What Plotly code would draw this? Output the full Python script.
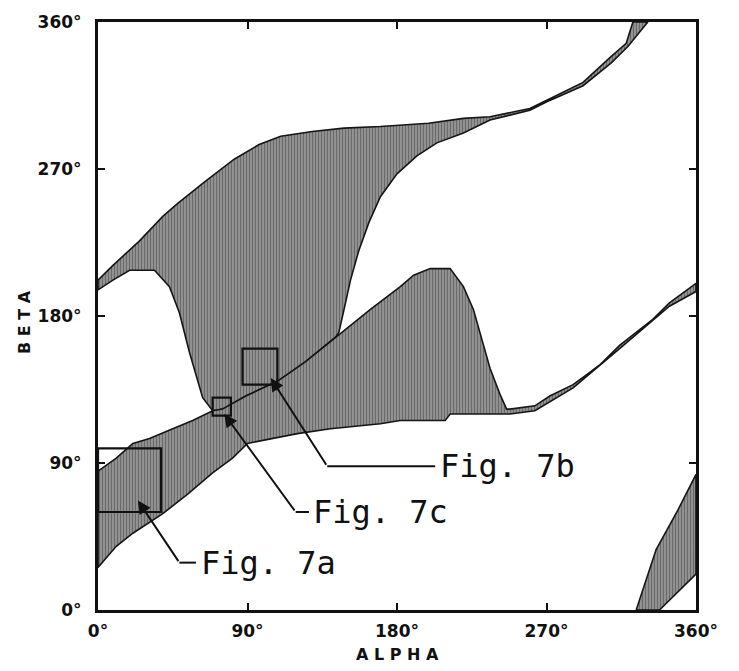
import plotly.graph_objects as go

# ---------------- data (degrees) ----------------
# Region A: upper S-shaped region (top boundary, thin band to top edge)
A_top_alpha = [0, 9, 25, 39, 48, 64, 82, 97, 110, 129, 148, 170, 199, 220, 236, 260, 272, 292, 308, 318, 322]
A_top_beta = [202, 211, 226, 241, 249, 262, 276, 285, 290, 293, 295, 296, 298, 301, 302, 307, 313, 323, 338, 347, 360]
# right boundary of A (from top edge back down to where it meets region B)
A_right_alpha = [331, 319, 309, 292, 272, 260, 236, 220, 204, 192, 180, 170, 163, 157, 152, 149, 145]
A_right_beta = [360, 345, 335, 321, 312, 306, 300, 292, 286, 278, 267, 253, 237, 220, 202, 188, 170]
# shared diagonal boundary between A and B (right to left)
diag_alpha = [143, 125, 108, 89, 75, 69]
diag_beta = [167, 152, 140, 131, 123, 122]
# lower-left boundary of A (from diagonal up to the notch and left edge)
A_left_alpha = [63, 55, 49, 43, 34, 19, 9, 0]
A_left_beta = [130, 158, 182, 198, 208, 208, 202, 196]

# Region B: lower band with the bump
B_topleft_alpha = [0, 11, 21, 31, 45, 57, 69]
B_topleft_beta = [85, 93, 102, 105, 111, 116, 122]
B_bump_alpha = [164, 182, 190, 200, 212, 220, 226, 231, 236, 242, 246, 248, 263, 272, 286, 294, 302, 314, 334, 344, 360]
B_bump_beta = [184, 198, 205, 209, 209, 198, 184, 166, 148, 132, 123, 123, 125, 131, 138, 144, 150, 162, 178, 188, 200]
B_bottom_alpha = [360, 344, 314, 286, 263, 248, 242, 212, 209, 182, 170, 140, 120, 90, 81, 69, 54, 39, 21, 11, 0]
B_bottom_beta = [195, 186, 160, 136, 122, 120, 120, 120, 116, 116, 114, 111, 108, 102, 93, 84, 71, 59, 47, 39, 26]

# Region C: lower-right band (wraps from the top edge)
C_left_alpha = [324, 336, 349, 360]
C_left_beta = [0, 37, 61, 83]
C_right_alpha = [360, 338]
C_right_beta = [22, 0]

# Zoom boxes [alpha0, alpha1, beta0, beta1]
box_names = ["Fig. 7a", "Fig. 7b", "Fig. 7c"]
box_alpha0 = [0, 87, 69]
box_alpha1 = [38, 108, 80]
box_beta0 = [60, 138, 119]
box_beta1 = [99, 160, 130]
# Leader lines: arrow head, bend, end of horizontal
head_alpha = [24, 104, 76]
head_beta = [67, 142, 120]
bend_alpha = [49, 138, 119]
bend_beta = [29, 88, 60]
end_alpha = [59, 203, 127]

ticks = [0, 90, 180, 270, 360]
tick_text = ["0°", "90°", "180°", "270°", "360°"]

# ---------------- figure ----------------
fill_style = dict(shape="|", bgcolor="#9e9e9e", fgcolor="#333333", size=3, solidity=0.5)
edge = dict(color="#151515", width=1.6)

fig = go.Figure()

def poly(ax, ay):
    fig.add_trace(go.Scatter(x=ax, y=ay, mode="lines", fill="toself",
                             fillpattern=fill_style, line=edge,
                             hoverinfo="skip", showlegend=False))

polyA_x = A_top_alpha + A_right_alpha + diag_alpha + A_left_alpha + [A_top_alpha[0]]
polyA_y = A_top_beta + A_right_beta + diag_beta + A_left_beta + [A_top_beta[0]]
poly(polyA_x, polyA_y)

polyB_x = B_topleft_alpha + diag_alpha[::-1][1:] + B_bump_alpha + B_bottom_alpha + [B_topleft_alpha[0]]
polyB_y = B_topleft_beta + diag_beta[::-1][1:] + B_bump_beta + B_bottom_beta + [B_topleft_beta[0]]
poly(polyB_x, polyB_y)

poly(C_left_alpha + C_right_alpha + [C_left_alpha[0]], C_left_beta + C_right_beta + [C_left_beta[0]])

shapes = []
for i in range(len(box_names)):
    shapes.append(dict(type="rect", xref="x", yref="y",
                       x0=box_alpha0[i], x1=box_alpha1[i], y0=box_beta0[i], y1=box_beta1[i],
                       line=dict(color="#111", width=2.2)))

annotations = []
for i in range(len(box_names)):
    fig.add_trace(go.Scatter(x=[bend_alpha[i], end_alpha[i]], y=[bend_beta[i], bend_beta[i]],
                             mode="lines", line=dict(color="#111", width=2),
                             hoverinfo="skip", showlegend=False))
    annotations.append(dict(x=head_alpha[i], y=head_beta[i], ax=bend_alpha[i], ay=bend_beta[i],
                            xref="x", yref="y", axref="x", ayref="y", text="",
                            showarrow=True, arrowhead=2, arrowsize=1.3, arrowwidth=2,
                            arrowcolor="#111", standoff=0))
    annotations.append(dict(x=end_alpha[i] + 1.5, y=bend_beta[i], xref="x", yref="y",
                            text=box_names[i], showarrow=False, xanchor="left", yanchor="middle",
                            font=dict(family="DejaVu Sans Mono", size=32, color="#111")))

annotations.append(dict(x=0.5, y=-0.075, xref="paper", yref="paper", text="A L P H A",
                        showarrow=False, xanchor="center", yanchor="middle",
                        font=dict(family="DejaVu Sans", size=16, color="#111", weight="bold")))
annotations.append(dict(x=-0.122, y=0.49, xref="paper", yref="paper", text="B E T A",
                        showarrow=False, textangle=-90, xanchor="center", yanchor="middle",
                        font=dict(family="DejaVu Sans", size=16, color="#111", weight="bold")))

axis_common = dict(range=[0, 360], tickvals=ticks, ticktext=tick_text,
                   showgrid=False, zeroline=False, showline=True, linecolor="#111",
                   linewidth=3, mirror="ticks", ticks="inside", ticklen=7, tickwidth=1.5,
                   tickcolor="#111",
                   tickfont=dict(family="DejaVu Sans", size=17, color="#111", weight="bold"))

fig.update_layout(
    width=739, height=671,
    margin=dict(l=98, r=43, t=16, b=61),
    paper_bgcolor="white", plot_bgcolor="white",
    xaxis=dict(**axis_common, ticklabelstandoff=4),
    yaxis=dict(**axis_common, ticklabelstandoff=10),
    shapes=shapes, annotations=annotations,
)

fig.write_html("out.html")
